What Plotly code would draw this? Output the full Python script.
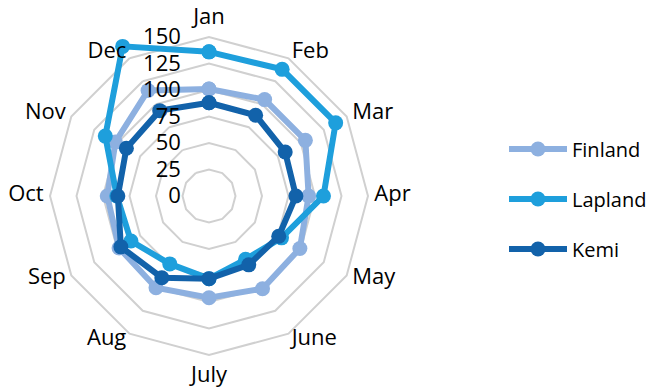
import plotly.graph_objects as go

months = ["Jan", "Feb", "Mar", "Apr", "May", "June", "July", "Aug", "Sep", "Oct", "Nov", "Dec"]
finland = [101, 105, 105, 94, 99, 101, 96, 100, 98, 96, 102, 115]
lapland = [136, 138, 138, 108, 79, 69, 78, 74, 85, 87, 113, 163]
kemi = [88, 88, 83, 82, 76, 75, 78, 89, 96, 86, 90, 93]
radial_ticks = [0, 25, 50, 75, 100, 125, 150]
r_max = 172

# month names hang off the outer ring: centred at top/bottom, pushed sideways elsewhere
label_pos = (["top center"] + ["middle right"] * 5 + ["bottom center"]
             + ["middle left"] * 5)
label_gap = {"top center": 157, "bottom center": 160, "middle right": 156, "middle left": 156}
label_r = [label_gap[p] for p in label_pos]

series = [
    ("Finland", finland, "#8DB0E0"),
    ("Lapland", lapland, "#1E9FDC"),
    ("Kemi", kemi, "#1262AA"),
]

font_family = "'Open Sans', Lato, sans-serif"
fs = 22

fig = go.Figure()
for name, vals, color in series:
    fig.add_trace(go.Scatterpolar(
        r=vals + vals[:1],
        theta=months + months[:1],
        name=name,
        legendgroup=name,
        mode="lines+markers",
        line=dict(color=color, width=6),
        marker=dict(color=color, size=15),
    ))

fig.add_trace(go.Scatterpolar(
    r=label_r,
    theta=months,
    mode="text",
    text=months,
    textposition=label_pos,
    textfont=dict(size=fs, color="#000000", family=font_family),
    showlegend=False,
    hoverinfo="skip",
))

fig.update_layout(
    width=652, height=391,
    margin=dict(l=0, r=0, t=0, b=0, autoexpand=False),
    paper_bgcolor="white",
    plot_bgcolor="white",
    font=dict(family=font_family, size=fs, color="#000000"),
    polar=dict(
        domain=dict(x=[26.7 / 652, 391.3 / 652], y=[12.7 / 391, 377.3 / 391]),
        bgcolor="rgba(0,0,0,0)",
        gridshape="linear",
        radialaxis=dict(
            range=[0, r_max],
            tickvals=radial_ticks,
            angle=90,
            tickangle=90,
            showline=False,
            gridcolor="#D0D0D0",
            gridwidth=2,
            ticks="outside",
            ticklen=20,
            tickcolor="rgba(0,0,0,0)",
            tickfont=dict(size=fs),
            side="counterclockwise",
        ),
        angularaxis=dict(
            direction="clockwise",
            rotation=90,
            showgrid=False,
            showline=False,
            showticklabels=False,
            ticks="",
        ),
    ),
    legend=dict(
        x=504 / 652, y=1 - 199 / 391, xanchor="left", yanchor="middle",
        itemwidth=58,
        tracegroupgap=21,
        font=dict(size=20),
        bgcolor="rgba(0,0,0,0)",
    ),
)

fig.write_html("out.html")
